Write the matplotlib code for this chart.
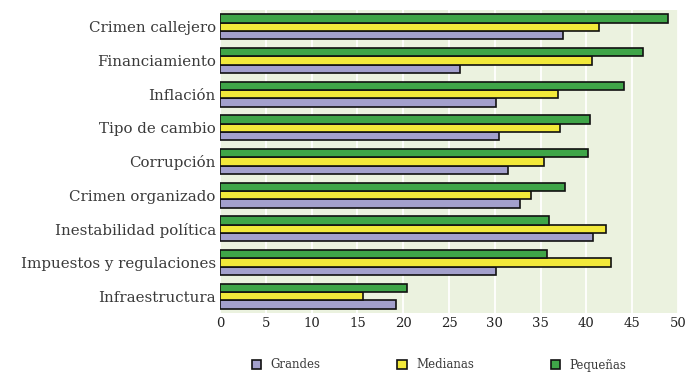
import matplotlib
matplotlib.use("Agg")
import matplotlib.pyplot as plt
import numpy as np

categories = ["Crimen callejero", "Financiamiento", "Inflación", "Tipo de cambio",
              "Corrupción", "Crimen organizado", "Inestabilidad política",
              "Impuestos y regulaciones", "Infraestructura"]
grandes = [37.4, 26.2, 30.1, 30.5, 31.4, 32.8, 40.7, 30.1, 19.2]
medianas = [41.4, 40.6, 36.9, 37.1, 35.4, 34.0, 42.1, 42.7, 15.6]
pequenas = [48.9, 46.2, 44.1, 40.4, 40.2, 37.7, 35.9, 35.7, 20.4]
series_names = ["Grandes", "Medianas", "Pequeñas"]
colors = ["#A3A0CC", "#F2E93A", "#3FA548"]
xticks = list(range(0, 51, 5))

plt.rcParams['font.family'] = ['DejaVu Serif']
fig = plt.figure(figsize=(6.88, 3.73), dpi=100)
ax = fig.add_axes([220/688, 1-313/373, 458/688, 303/373])
ax.set_facecolor("#EBF2DF")

n = len(categories)
y = np.arange(n)
h = 0.245
data = [grandes, medianas, pequenas]
offsets = [h, 0, -h]
handles = []
for vals, off, c, name in zip(data, offsets, colors, series_names):
    b = ax.barh(y + off, vals, height=h, color=c, edgecolor="#111111", linewidth=1.2,
                label=name, zorder=3)
    handles.append(b)

ax.set_ylim(n - 0.5, -0.5)
ax.set_xlim(0, 50)
ax.set_yticks(y)
ax.set_yticklabels(categories, fontsize=10.8, color="#3a3a3a")
ax.set_xticks(xticks)
ax.set_xticklabels([str(t) for t in xticks], fontsize=9.5, color="#222222")
ax.tick_params(length=0, pad=3)
ax.grid(axis="x", color="white", linewidth=1.3, zorder=0)
for s in ax.spines.values():
    s.set_visible(False)

fig.legend(handles=handles, labels=series_names, loc="center", bbox_to_anchor=(439/688, 1-365/373),
           ncol=3, frameon=False, fontsize=8.5, handlelength=0.8, handleheight=0.8,
           columnspacing=6.5, handletextpad=0.8, labelcolor="#3a3a3a")

fig.savefig("out.png", dpi=100)
